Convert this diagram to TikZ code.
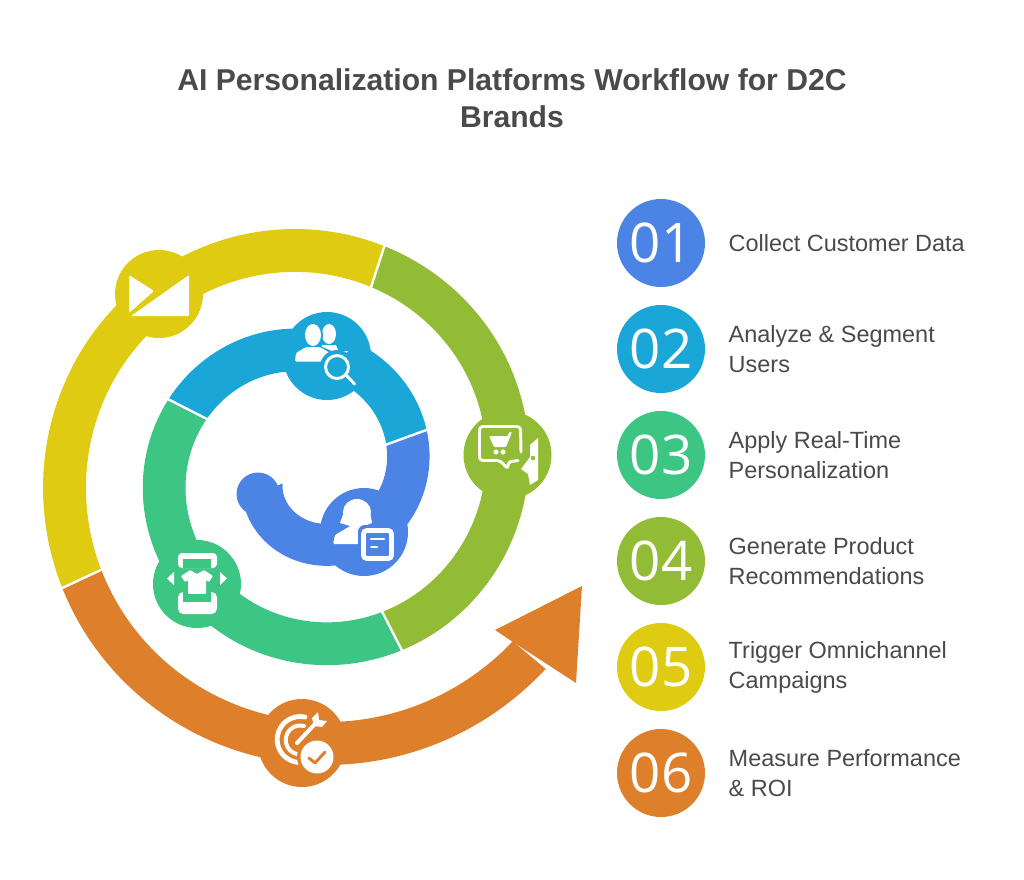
\documentclass[tikz,border=0pt]{standalone}
\usepackage{fontspec}
\setmainfont{Liberation Sans}
\newfontfamily\numfont{Open Sans}
\definecolor{cblue}{HTML}{4B84E4}
\definecolor{ccyan}{HTML}{1AA7D8}
\definecolor{cgreen}{HTML}{3CC583}
\definecolor{clime}{HTML}{92BC36}
\definecolor{cyell}{HTML}{DFCB12}
\definecolor{corng}{HTML}{DE802B}
\definecolor{ctext}{HTML}{4A4A4A}
\tikzset{
 numdisc/.style={circle,minimum size=66pt,inner sep=0pt,fill=#1,text=white,font=\numfont\fontsize{41}{41}\selectfont},
 steplabel/.style={anchor=west,align=left,text=ctext,font=\fontsize{17.6}{22.5}\selectfont},
 titletext/.style={align=center,text=ctext,font=\bfseries\fontsize{22.6}{27.8}\selectfont},
 icoline/.style={draw=white,line width=2.2pt,fill=none,line cap=round,line join=round},
 sep/.style={draw=white,line width=1.8pt}
}
\newcommand{\seg}[3]{%
 \fill[#3] plot[domain=#1:#2,samples=70,smooth] ({311+(96+\x/3.6+21.5)*cos(\x)},{472-(96+\x/3.6+21.5)*sin(\x)})
 -- plot[domain=#2:#1,samples=70,smooth] ({311+(96+\x/3.6-21.5)*cos(\x)},{472-(96+\x/3.6-21.5)*sin(\x)}) -- cycle;}
\newcommand{\cutline}[1]{%
 \draw[sep] ({311+(96+#1/3.6+24)*cos(#1)},{472-(96+#1/3.6+24)*sin(#1)}) -- ({311+(96+#1/3.6-24)*cos(#1)},{472-(96+#1/3.6-24)*sin(#1)});}
\begin{document}
\begin{tikzpicture}[x=0.75pt,y=-0.75pt]
\path[use as bounding box] (0,0) rectangle (1024,879);
% title
\node[titletext] (title) at (512,98.5) {AI Personalization Platforms Workflow for D2C\\Brands};
% spiral
\seg{-158}{20}{cblue}
\fill[cblue] (258,494) circle[radius=21.5];
\seg{20}{153}{ccyan}
\seg{153}{297}{cgreen}
\seg{297}{432}{clime}
\seg{432}{565}{cyell}
\seg{565}{680}{corng}
\fill[corng] (516,644) -- (495,630) -- (582,586) -- (576,683) -- (553,668) -- cycle;
\cutline{20}\cutline{153}\cutline{297}\cutline{432}\cutline{565}
% icon discs
\fill[cblue] (364,532) circle[radius=44];
\fill[ccyan] (327,356) circle[radius=44];
\fill[cgreen] (197,584) circle[radius=44];
\fill[clime] (507.5,455) circle[radius=44];
\fill[cyell] (159,294) circle[radius=44];
\fill[corng] (302,743) circle[radius=44];
% mail icon
\fill[white,rounded corners=0.8pt] (129,275) -- (154,291) -- (129,313) -- cycle;
\fill[white,rounded corners=0.8pt] (189,275) -- (189,316) -- (131,316) -- cycle;
% users and magnifier icon
\fill[white] (329,334) ellipse[x radius=7,y radius=10];
\fill[white] (322,345) -- (336,345) -- (338,350) -- (338,352) -- (348,351) -- (338,361) -- (320,361) -- cycle;
\fill[ccyan] (313,335) ellipse[x radius=10,y radius=13];
\fill[white] (313,335) ellipse[x radius=8,y radius=11];
\fill[ccyan] (295,362) -- (297,351) -- (306,346) -- (320,346) -- (334,352) -- (330,362) -- cycle;
\fill[white,rounded corners=1pt] (295,361.5) -- (296,353) -- (306,347) -- (320,347) -- (330,353) -- (331,361.5) -- cycle;
\fill[ccyan] (337,367) circle[radius=17];
\draw[icoline] (337,367) circle[radius=11.5];
\draw[icoline] (347,376) -- (354.5,384);
% cart, speech bubble and face icon
\draw[icoline,rounded corners=2.5pt] (521,452) -- (520.5,426.5) -- (479.5,426.5) -- (479.5,460.5) -- (500,460.5) -- (508,469) -- (508,462) -- (518,460.5);
\fill[white,rounded corners=0.8pt] (489,436) -- (508,436) -- (509,432) -- (512,432) -- (506,447) -- (494,447) -- cycle;
\fill[white] (496,452) circle[radius=2.6] (503,452) circle[radius=2.6];
\fill[white] (538,438) -- (538,480) -- (530,485) -- (528,474) -- (521,469) -- (530,457) -- (530,445) -- cycle;
\fill[clime] (533,458) circle[radius=2.3];
% shirt on phone icon
\fill[white,rounded corners=3pt] (178,553) rectangle (217,568);
\fill[cgreen] (183,559) rectangle (211,568);
\fill[white,rounded corners=4pt] (178,592) rectangle (217,614);
\fill[cgreen] (183,590) rectangle (211,602);
\fill[white,rounded corners=0.6pt] (190,570) -- (197,574) -- (204,570) -- (213,576) -- (209,582) -- (206,580) -- (206,594) -- (188,594) -- (188,580) -- (185,582) -- (181,576) -- cycle;
\fill[cgreen] (183,594) rectangle (211,602);
\fill[white] (167,578.5) -- (174,572) -- (174,585) -- cycle;
\fill[white] (220,572) -- (220,585) -- (227,578.5) -- cycle;
% person and document icon
\fill[white] (357,512) ellipse[x radius=14,y radius=13];
\fill[white] (344,512) -- (370,512) -- (372,523) -- (364,526) -- (350,526) -- (340,523) -- cycle;
\fill[white,rounded corners=1pt] (352,525) -- (362,525) -- (362,544) -- (333,544) -- (335,535) -- cycle;
\fill[cblue,rounded corners=5pt] (358,525) rectangle (397,564);
\draw[draw=white,line width=3.6pt,rounded corners=2.5pt] (363.5,530.5) rectangle (391.5,558.5);
\draw[draw=white,line width=2.2pt,line cap=round] (371,539) -- (384,539) (371.5,547) -- (377,547);
% target and check icon
\draw[draw=white,line width=3.6pt,line cap=round] (305,717) arc[start angle=-78,end angle=-265,radius=23];
\draw[draw=white,line width=3pt,line cap=round] (304,726) arc[start angle=-75,end angle=-260,radius=14.5];
\draw[draw=white,line width=3pt,line cap=round] (297,743) -- (314,725);
\fill[white] (318,712) -- (319,720) -- (327,721) -- (322,727) -- (314,726) -- (312,718) -- cycle;
\fill[corng] (317,757) circle[radius=20];
\fill[white] (317,757) circle[radius=16.5];
\draw[draw=corng,line width=2.2pt,line cap=round,line join=round] (309,758) -- (315,763) -- (325,752);
% legend
\node[numdisc=cblue] (n1) at (661,243) {01};
\node[numdisc=ccyan] (n2) at (661,349) {02};
\node[numdisc=cgreen] (n3) at (661,455) {03};
\node[numdisc=clime] (n4) at (661,561) {04};
\node[numdisc=cyell] (n5) at (661,667) {05};
\node[numdisc=corng] (n6) at (661,773) {06};
\node[steplabel] (l1) at (724,243) {Collect Customer Data};
\node[steplabel] (l2) at (724,349) {Analyze \& Segment\\Users};
\node[steplabel] (l3) at (724,455) {Apply Real-Time\\Personalization};
\node[steplabel] (l4) at (724,561) {Generate Product\\Recommendations};
\node[steplabel] (l5) at (724,667) {Trigger Omnichannel\\Campaigns};
\node[steplabel] (l6) at (724,773) {Measure Performance\\\& ROI};
\end{tikzpicture}
\end{document}
